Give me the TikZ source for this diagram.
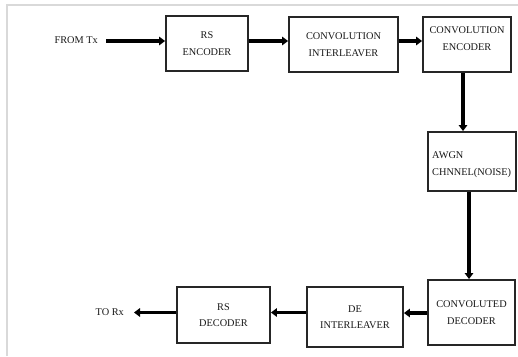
\documentclass[tikz,border=0pt]{standalone}
\usepackage{fontspec}
\setmainfont{Liberation Serif}
\usetikzlibrary{arrows.meta}
\begin{document}
\begin{tikzpicture}[x=1pt,y=-1pt,
  blk/.style={draw=black!85,line width=1.9pt,fill=white,inner sep=0pt,align=center,
    font=\fontsize{10.3}{16.5}\selectfont,text=black!90},
  lbl/.style={inner sep=0pt,align=center,font=\fontsize{10.3}{16.5}\selectfont,text=black!90},
  conn/.style={line width=3.2pt,black,-{Triangle[length=6pt,width=8.5pt]}}]
\useasboundingbox (0,0) rectangle (518,356);
\fill[white] (0,0) rectangle (518,356);
\draw[black!15,line width=1.2pt] (7,356) -- (7,5) -- (518,5);
% boxes
\node[blk,minimum width=82pt,minimum height=55pt] (rsenc) at (207,43.5) {RS\\ENCODER};
\node[blk,minimum width=109pt,minimum height=55pt] (cint) at (343.5,44.5) {CONVOLUTION\\INTERLEAVER};
\node[blk,minimum width=88pt,minimum height=55pt] (cenc) at (467,44.5) {};
\node[lbl] at (467,38.5) {CONVOLUTION\\ENCODER};
\node[blk,minimum width=88pt,minimum height=59pt] (awgn) at (472,161.5) {};
\node[lbl,align=left,anchor=west] at (432,164.5) {AWGN\\CHNNEL(NOISE)};
\node[blk,minimum width=87pt,minimum height=65pt] (cdec) at (471.5,312.5) {CONVOLUTED\\DECODER};
\node[blk,minimum width=96pt,minimum height=60pt] (dint) at (355,317) {DE\\INTERLEAVER};
\node[blk,minimum width=93pt,minimum height=56pt] (rsdec) at (223.5,315) {RS\\DECODER};
% terminals
\node[lbl,anchor=east] (from) at (98,40.5) {FROM Tx};
\node[lbl,anchor=east] (to) at (124,312.5) {TO Rx};
\coordinate (fromend) at (106,41);
\coordinate (toend) at (134,312.5);
% connectors
\draw[conn] (fromend) -- (rsenc.west |- fromend);
\draw[conn] (rsenc.east |- 0,41) -- (cint.west |- 0,41);
\draw[conn] (cint.east |- 0,41) -- (cenc.west |- 0,41);
\draw[conn] (cenc.south -| 463,0) -- (awgn.north -| 463,0);
\draw[conn] (awgn.south -| 469,0) -- (cdec.north -| 469,0);
\draw[conn] (cdec.west |- 0,313) -- (dint.east |- 0,313);
\draw[conn] (dint.west |- 0,312.5) -- (rsdec.east |- 0,312.5);
\draw[conn] (rsdec.west |- toend) -- (toend);
\end{tikzpicture}
\end{document}
